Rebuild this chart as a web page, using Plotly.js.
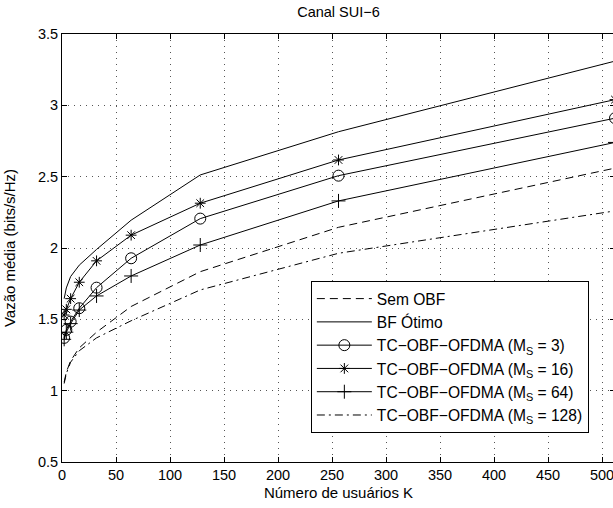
<!DOCTYPE html>
<html>
<head>
<meta charset="utf-8">
<script src="https://cdn.plot.ly/plotly-3.0.1.min.js"></script>
<style>
html, body { margin: 0; padding: 0; overflow: hidden; background: #fff; }
#chart { width: 630px; height: 508px; }
</style>
</head>
<body>
<div id="chart"></div>
<script>
const K = [2, 4, 8, 16, 32, 64, 128, 256, 512];
const semOBF = [1.06, 1.13, 1.21, 1.30, 1.41, 1.59, 1.834, 2.145, 2.56];
const bfOtimo = [1.645, 1.72, 1.80, 1.88, 1.99, 2.195, 2.512, 2.815, 3.31];
const tc3 = [1.37, 1.426, 1.484, 1.578, 1.722, 1.928, 2.206, 2.507, 2.91];
const tc16 = [1.53, 1.57, 1.645, 1.76, 1.91, 2.09, 2.314, 2.617, 3.04];
const tc64 = [1.36, 1.41, 1.47, 1.565, 1.664, 1.804, 2.021, 2.33, 2.74];
const tc128 = [1.05, 1.12, 1.20, 1.28, 1.37, 1.49, 1.706, 1.963, 2.26];

const names = [
  'Sem OBF',
  'BF Ótimo',
  'TC−OBF−OFDMA (M<sub>S</sub> = 3)',
  'TC−OBF−OFDMA (M<sub>S</sub> = 16)',
  'TC−OBF−OFDMA (M<sub>S</sub> = 64)',
  'TC−OBF−OFDMA (M<sub>S</sub> = 128)'
];

const black = '#000';
function tr(y, name, dash, symbol, size) {
  const t = {
    x: K, y: y, name: name, type: 'scatter',
    mode: symbol ? 'lines+markers' : 'lines',
    line: { color: black, width: 1, dash: dash }
  };
  if (symbol) {
    t.marker = { symbol: symbol, size: size, color: black,
                 line: { color: black, width: 1 } };
  }
  return t;
}

const data = [
  tr(semOBF, names[0], '8px,5px', null),
  tr(bfOtimo, names[1], 'solid', null),
  tr(tc3, names[2], 'solid', 'circle-open', 11),
  tr(tc16, names[3], 'solid', 'asterisk-open', 9),
  tr(tc64, names[4], 'solid', 'cross-thin-open', 10),
  tr(tc128, names[5], '8px,4px,2px,4px', null)
];

const axisCommon = {
  showline: true, linecolor: black, linewidth: 1, mirror: 'ticks',
  ticks: 'inside', ticklen: 5, tickcolor: black,
  showgrid: true, gridcolor: '#555', griddash: '1px,5px', gridwidth: 1,
  zeroline: false,
  tickfont: { family: 'Liberation Sans, Arial, sans-serif', size: 14.5, color: black },
  automargin: false
};

const layout = {
  width: 630, height: 508,
  margin: { l: 62, r: 15, t: 34, b: 46 },
  paper_bgcolor: '#fff', plot_bgcolor: '#fff',
  font: { family: 'Liberation Sans, Arial, sans-serif', size: 14, color: black },
  title: { text: 'Canal SUI−6', x: 0.5, xref: 'paper', y: 0.976, yref: 'container',
           yanchor: 'middle', font: { size: 14.5, color: black } },
  xaxis: Object.assign({}, axisCommon, {
    range: [0, 512], dtick: 50, tick0: 0,
    title: { text: 'Número de usuários K', standoff: 5, font: { size: 15 } }
  }),
  yaxis: Object.assign({}, axisCommon, {
    range: [0.5, 3.5], dtick: 0.5, tick0: 0.5,
    title: { text: 'Vazão média (bits/s/Hz)', standoff: 18, font: { size: 15 } }
  }),
  legend: {
    x: 0.450, y: 0.423, xanchor: 'left', yanchor: 'top',
    bgcolor: '#fff', bordercolor: black, borderwidth: 1,
    font: { size: 15.6, color: black }, tracegroupgap: 0, itemwidth: 55
  },
  showlegend: true
};

Plotly.newPlot('chart', data, layout, { displayModeBar: false, staticPlot: true });
</script>
</body>
</html>
